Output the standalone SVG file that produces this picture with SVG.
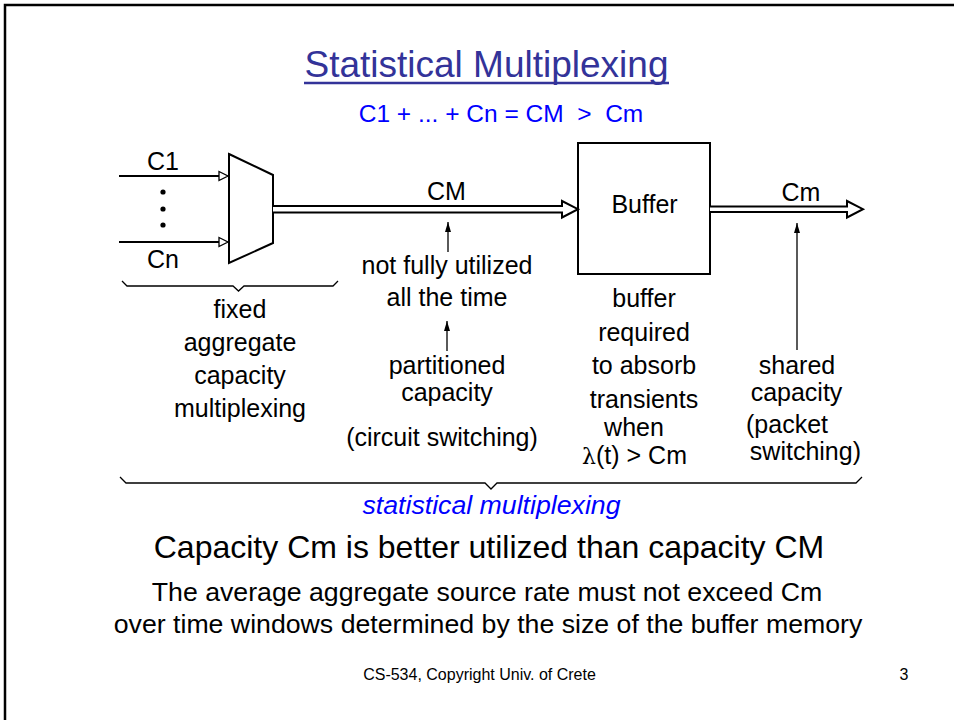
<svg xmlns="http://www.w3.org/2000/svg" width="954" height="720" viewBox="0 0 954 720">
<defs>
<style>
text{font-family:"Liberation Sans",Arial,sans-serif;fill:#000}
.t{font-size:25px;text-anchor:middle}
.tl{font-size:25px}
.ln{stroke:#000;stroke-width:2;fill:none}
.thin{stroke:#000;stroke-width:1.3;fill:none}
.dbl{stroke:#000;stroke-width:2;fill:#fff;stroke-linejoin:miter}
</style>
<marker id="up" viewBox="0 0 10 8" refX="10" refY="4" markerWidth="10" markerHeight="8" markerUnits="userSpaceOnUse" orient="auto">
<path d="M10,4 L0,1 L0,7 Z" fill="#000"/>
</marker>
</defs>
<rect width="954" height="720" fill="#fff"/>
<path d="M5,720 V5 H954" fill="none" stroke="#000" stroke-width="2.5"/>

<g id="title">
<text x="486.5" y="77" style="font-size:37px;text-anchor:middle;fill:#333399">Statistical Multiplexing</text>
<line x1="304" y1="83" x2="669" y2="83" stroke="#333399" stroke-width="2.5"/>
</g>
<g id="formula">
<text x="501" y="122" xml:space="preserve" style="font-size:24.5px;text-anchor:middle;fill:#0000ff">C1 + ... + Cn = CM  &gt;  Cm</text>
</g>

<g id="inputs">
<text class="tl" x="147" y="170">C1</text>
<text class="tl" x="147" y="268">Cn</text>
<circle cx="163" cy="192" r="2.6"/>
<circle cx="163" cy="209" r="2.6"/>
<circle cx="163" cy="225" r="2.6"/>
</g>

<g id="mux">
<path d="M229,154 L273,175 L273,243 L229,263 Z" fill="#fff" stroke="#000" stroke-width="2"/>
</g>

<g id="buffer">
<rect x="578" y="143" width="132" height="131" fill="#fff" stroke="#000" stroke-width="2"/>
<text class="t" x="644.5" y="213">Buffer</text>
</g>

<g id="connectors">
<line class="ln" x1="119" y1="176" x2="219" y2="176"/>
<path d="M219,171.5 L228,176 L219,180.5 Z" fill="#fff" stroke="#000" stroke-width="1.3"/>
<line class="ln" x1="119" y1="242" x2="219" y2="242"/>
<path d="M219,237.5 L228,242 L219,246.5 Z" fill="#fff" stroke="#000" stroke-width="1.3"/>
<path class="dbl" d="M273,206 H562 V201 L578,209.2 L562,217.5 V212.5 H273"/>
<path class="dbl" d="M710,206.5 H847 V201 L863,209.2 L847,217.5 V212 H710"/>
<line class="thin" x1="448" y1="252" x2="448" y2="222" marker-end="url(#up)"/>
<line class="thin" x1="447" y1="351" x2="447" y2="321" marker-end="url(#up)"/>
<line class="thin" x1="797" y1="350" x2="797" y2="223" marker-end="url(#up)"/>
<path class="thin" d="M122,281 L127,286 H233 L238.5,291 L244,286 H333 L338,281"/>
<path class="thin" d="M120,477 L126,483 H485 L491,489 L497,483 H856 L862,477"/>
</g>

<g id="labels">
<text class="t" x="446.5" y="200">CM</text>
<text class="t" x="801" y="201">Cm</text>
<text class="t" x="240" y="318">fixed</text>
<text class="t" x="240" y="351">aggregate</text>
<text class="t" x="240" y="384">capacity</text>
<text class="t" x="240" y="417">multiplexing</text>
<text class="t" x="447" y="274">not fully utilized</text>
<text class="t" x="447" y="306">all the time</text>
<text class="t" x="447" y="374">partitioned</text>
<text class="t" x="447" y="401">capacity</text>
<text class="t" x="442" y="446">(circuit switching)</text>
<text class="t" x="644" y="307">buffer</text>
<text class="t" x="644" y="341">required</text>
<text class="t" x="644" y="374">to absorb</text>
<text class="t" x="644" y="408">transients</text>
<text class="t" x="634" y="436">when</text>
<text class="t" x="634.5" y="464"><tspan style="font-family:'DejaVu Serif','Liberation Serif',serif;font-size:22px">λ</tspan>(t) &gt; Cm</text>
<text class="t" x="797" y="374">shared</text>
<text class="t" x="796.5" y="401">capacity</text>
<text class="tl" x="746" y="433">(packet</text>
<text class="tl" x="861" y="460" style="text-anchor:end">switching)</text>
<text x="491.5" y="514" style="font-size:26.7px;font-style:italic;text-anchor:middle;fill:#0000ff">statistical multiplexing</text>
</g>

<g id="notes">
<text x="489" y="558" style="font-size:32px;text-anchor:middle">Capacity Cm is better utilized than capacity CM</text>
<text x="487" y="601" style="font-size:26.7px;text-anchor:middle">The average aggregate source rate must not exceed Cm</text>
<text x="488" y="633" style="font-size:26.7px;text-anchor:middle">over time windows determined by the size of the buffer memory</text>
<text x="479.5" y="680" style="font-size:16px;text-anchor:middle">CS-534, Copyright Univ. of Crete</text>
<text x="904" y="680" style="font-size:16px;text-anchor:middle">3</text>
</g>
</svg>
